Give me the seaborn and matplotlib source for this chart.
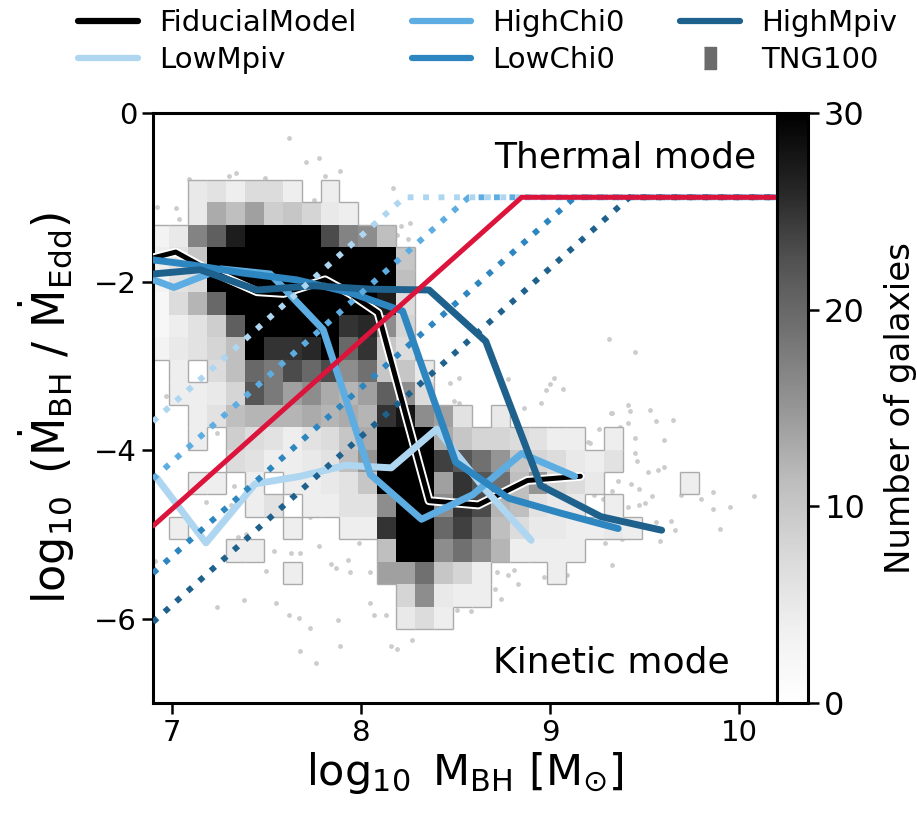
import numpy as np
import pandas as pd
import matplotlib
matplotlib.use("Agg")
import matplotlib.pyplot as plt
import matplotlib.patheffects as pe
from matplotlib.collections import LineCollection
from matplotlib.lines import Line2D
import seaborn as sns

sns.set_theme(style="ticks")
plt.rcParams["font.family"] = ["DejaVu Sans"]
plt.rcParams["mathtext.default"] = "regular"
for key in ["text.color", "axes.labelcolor", "xtick.color", "ytick.color", "axes.edgecolor"]:
    plt.rcParams[key] = "black"

# ---------------- data ----------------
# 2D histogram of TNG100 galaxies (counts), rows from top (high y) to bottom
X_EDGE_START, X_BIN = 6.886, 0.1
Y_EDGE_START, Y_BIN = -6.125, 0.2665
N_XBINS, N_YBINS = 29, 20

COUNTS = [
    [0, 0, 5, 6, 4, 7, 7, 4, 0, 4, 0, 0, 0, 0, 0, 0, 0, 0, 0, 0, 0, 0, 0, 0, 0, 0, 0, 0, 0],
    [0, 0, 5, 13, 11, 14, 9, 10, 8, 5, 4, 0, 0, 0, 0, 0, 0, 0, 0, 0, 0, 0, 0, 0, 0, 0, 0, 0, 0],
    [3, 5, 17, 21, 27, 35, 35, 35, 35, 23, 17, 16, 11, 0, 0, 0, 0, 0, 0, 0, 0, 0, 0, 0, 0, 0, 0, 0, 0],
    [4, 6, 10, 35, 35, 35, 35, 35, 35, 35, 35, 35, 35, 10, 0, 0, 0, 0, 0, 0, 0, 0, 0, 0, 0, 0, 0, 0, 0],
    [3, 6, 7, 35, 35, 35, 35, 35, 35, 35, 35, 35, 35, 11, 0, 0, 0, 0, 0, 0, 0, 0, 0, 0, 0, 0, 0, 0, 0],
    [2, 7, 12, 20, 35, 35, 35, 35, 35, 35, 35, 35, 27, 7, 0, 0, 0, 0, 0, 0, 0, 0, 0, 0, 0, 0, 0, 0, 0],
    [2, 4, 6, 9, 21, 35, 35, 35, 35, 35, 25, 26, 16, 8, 0, 0, 0, 0, 0, 0, 0, 0, 0, 0, 0, 0, 0, 0, 0],
    [3, 5, 6, 8, 11, 35, 25, 25, 26, 35, 20, 25, 10, 7, 0, 0, 0, 0, 0, 0, 0, 0, 0, 0, 0, 0, 0, 0, 0],
    [0, 4, 0, 7, 11, 20, 18, 23, 20, 23, 16, 19, 10, 10, 5, 0, 0, 0, 0, 0, 0, 0, 0, 0, 0, 0, 0, 0, 0],
    [0, 4, 4, 5, 8, 22, 18, 14, 16, 13, 12, 14, 21, 16, 7, 0, 0, 0, 0, 0, 0, 0, 0, 0, 0, 0, 0, 0, 0],
    [0, 0, 4, 6, 11, 12, 12, 12, 13, 12, 13, 12, 25, 28, 16, 14, 6, 0, 5, 0, 0, 0, 0, 0, 0, 0, 0, 0, 0],
    [0, 0, 4, 0, 9, 7, 6, 4, 6, 7, 10, 13, 35, 35, 35, 13, 10, 8, 8, 7, 6, 4, 4, 0, 4, 0, 0, 0, 0],
    [0, 0, 0, 0, 7, 6, 4, 4, 5, 6, 11, 15, 35, 35, 35, 24, 22, 19, 15, 10, 8, 7, 5, 4, 6, 0, 0, 0, 0],
    [0, 0, 4, 4, 0, 4, 0, 4, 4, 5, 6, 10, 35, 35, 35, 14, 25, 22, 19, 11, 15, 8, 7, 5, 0, 0, 0, 0, 4],
    [0, 0, 0, 0, 0, 4, 6, 0, 4, 4, 6, 6, 16, 35, 35, 16, 25, 23, 12, 11, 6, 5, 5, 0, 4, 0, 0, 0, 0],
    [0, 4, 0, 0, 0, 0, 0, 4, 0, 0, 4, 4, 25, 35, 35, 20, 24, 19, 11, 7, 5, 5, 4, 4, 5, 4, 0, 0, 0],
    [0, 0, 0, 0, 4, 4, 0, 0, 0, 0, 0, 0, 11, 35, 35, 16, 19, 16, 12, 4, 4, 4, 4, 0, 0, 0, 0, 0, 0],
    [0, 0, 0, 0, 0, 0, 0, 4, 0, 0, 0, 0, 14, 14, 19, 10, 8, 4, 0, 0, 0, 4, 0, 0, 0, 0, 0, 0, 0],
    [0, 0, 0, 0, 0, 0, 0, 0, 0, 0, 0, 0, 0, 8, 16, 5, 4, 4, 0, 0, 0, 0, 0, 0, 0, 0, 0, 0, 0],
    [0, 0, 0, 0, 0, 0, 0, 0, 0, 0, 0, 0, 0, 5, 7, 4, 0, 0, 0, 0, 0, 0, 0, 0, 0, 0, 0, 0, 0],
]

# individual galaxies in sparse regions
DOTS_X = [7.62, 7.71, 7.78, 7.30, 7.34, 7.49, 7.09, 7.81, 7.89, 7.75, 8.17, 7.02, 7.04, 6.92, 8.21,
          8.26, 8.19, 8.25, 6.97, 6.92, 6.92, 8.47, 8.52, 6.97, 9.31, 9.45, 9.02, 9.00, 8.98, 9.07,
          8.78, 7.24, 7.18, 7.33, 7.31, 7.44, 7.39, 7.35, 7.54, 7.50, 7.63, 7.68, 7.63, 7.73, 7.78,
          7.84, 7.87, 7.93, 7.94, 7.99, 8.05, 7.55, 7.38, 7.24, 7.62, 7.67, 7.73, 7.88, 8.07, 8.05,
          8.13, 7.68, 7.76, 7.89, 8.16, 8.19, 8.27, 6.91, 8.51, 8.58, 8.72, 8.78, 8.81, 8.83, 8.74,
          8.71, 8.49, 8.52, 8.86, 8.95, 9.21, 9.26, 9.33, 9.41, 9.42, 9.32, 9.53, 9.56, 9.65, 9.41,
          9.37, 9.20, 9.45, 9.60, 9.45, 9.46, 9.52, 9.57, 9.60, 9.36, 9.43, 9.47, 9.33, 9.54, 9.69,
          9.80, 9.86, 9.86, 9.95, 10.08, 9.50, 9.47, 9.41, 9.28, 9.23, 9.64, 9.66, 9.56, 9.58, 9.90,
          9.29, 9.38, 9.23, 9.17, 9.09, 8.97, 9.33]
DOTS_Y = [-0.30, -0.58, -0.53, -0.75, -0.71, -0.77, -0.78, -0.75, -0.69, -1.03, -0.89, -1.13, -1.26, -1.11, -1.34,
          -1.31, -1.45, -1.50, -2.26, -2.57, -2.85, -3.20, -3.15, -3.36, -2.68, -2.84, -3.15, -3.21, -3.29, -3.27,
          -3.16, -3.80, -4.61, -4.43, -4.65, -4.57, -5.00, -5.03, -5.20, -5.43, -5.22, -5.22, -4.53, -4.79, -5.14,
          -5.35, -5.40, -5.30, -5.45, -5.10, -5.45, -5.81, -5.78, -5.86, -5.96, -5.99, -6.11, -6.02, -5.96, -5.81,
          -5.96, -6.38, -6.53, -6.32, -6.32, -6.36, -6.25, -5.32, -5.90, -5.91, -5.45, -5.48, -5.42, -5.59, -5.77,
          -5.65, -3.42, -3.44, -3.50, -3.44, -3.91, -3.75, -3.56, -3.46, -3.53, -3.56, -3.52, -3.66, -3.64, -3.68,
          -3.72, -3.90, -3.86, -3.88, -4.03, -4.13, -4.26, -4.23, -4.20, -4.37, -4.40, -4.46, -4.48, -4.54, -4.53,
          -4.58, -4.50, -4.70, -4.68, -4.54, -4.63, -4.65, -4.67, -4.58, -4.53, -4.84, -4.95, -4.85, -5.08, -4.94,
          -5.10, -5.06, -4.93, -5.22, -5.48, -5.50, -5.36]

# median accretion-rate curves for each model
FID_X = [6.90, 7.02, 7.19, 7.45, 7.59, 7.81, 7.94, 8.09, 8.36, 8.62, 8.88, 9.16]
FID_Y = [-1.72, -1.65, -1.86, -2.12, -2.14, -1.98, -2.14, -2.37, -4.60, -4.65, -4.36, -4.31]
LOWMPIV_X = [6.92, 7.18, 7.44, 7.68, 7.92, 8.16, 8.40, 8.65, 8.90]
LOWMPIV_Y = [-4.33, -5.10, -4.40, -4.31, -4.18, -4.21, -3.75, -4.45, -5.07]
HIGHCHI0_X = [6.75, 7.01, 7.26, 7.52, 7.80, 8.05, 8.32, 8.59, 8.85, 9.13]
HIGHCHI0_Y = [-1.85, -2.07, -1.85, -1.91, -2.57, -4.29, -4.82, -4.53, -4.04, -4.31]
LOWCHI0_X = [6.82, 7.10, 7.38, 7.66, 7.94, 8.22, 8.50, 8.78, 9.06, 9.36]
LOWCHI0_Y = [-1.72, -1.80, -1.90, -1.98, -2.13, -2.35, -4.14, -4.57, -4.75, -4.93]
HIGHMPIV_X = [6.85, 7.15, 7.45, 7.75, 8.05, 8.36, 8.66, 8.95, 9.27, 9.59]
HIGHMPIV_Y = [-1.92, -1.86, -2.10, -2.05, -2.09, -2.10, -2.71, -4.42, -4.79, -4.95]

# thermal/kinetic switching thresholds (breakpoints)
FID_THR_X = [6.90, 8.85, 10.20]
FID_THR_Y = [-4.90, -1.00, -1.00]
LOWMPIV_THR_X = [6.90, 8.23, 10.20]
LOWMPIV_THR_Y = [-3.66, -1.00, -1.00]
HIGHCHI0_THR_X = [6.90, 8.57, 10.20]
HIGHCHI0_THR_Y = [-4.34, -1.00, -1.00]
LOWCHI0_THR_X = [6.90, 9.13, 10.20]
LOWCHI0_THR_Y = [-5.46, -1.00, -1.00]
HIGHMPIV_THR_X = [6.90, 9.42, 10.20]
HIGHMPIV_THR_Y = [-6.04, -1.00, -1.00]

MODELS = ["FiducialModel", "LowMpiv", "HighChi0", "LowChi0", "HighMpiv"]
X_TICKS = [7, 8, 9, 10]
Y_TICKS = [0, -2, -4, -6]
CB_TICKS = [0, 10, 20, 30]

# ---------------- styles ----------------
COLORS = {"FiducialModel": "black", "LowMpiv": "#aed6f1", "HighChi0": "#5dade2",
          "LowChi0": "#2e86c1", "HighMpiv": "#1f618d"}
MED = {"FiducialModel": (FID_X, FID_Y), "LowMpiv": (LOWMPIV_X, LOWMPIV_Y),
       "HighChi0": (HIGHCHI0_X, HIGHCHI0_Y), "LowChi0": (LOWCHI0_X, LOWCHI0_Y),
       "HighMpiv": (HIGHMPIV_X, HIGHMPIV_Y)}
THR = {"LowMpiv": (LOWMPIV_THR_X, LOWMPIV_THR_Y), "HighChi0": (HIGHCHI0_THR_X, HIGHCHI0_THR_Y),
       "LowChi0": (LOWCHI0_THR_X, LOWCHI0_THR_Y), "HighMpiv": (HIGHMPIV_THR_X, HIGHMPIV_THR_Y)}

W, H = 917, 815
fig = plt.figure(figsize=(W / 100, H / 100), dpi=100)
ax_l, ax_r, ax_t, ax_b = 153, 777, 113, 703
ax = fig.add_axes([ax_l / W, 1 - ax_b / H, (ax_r - ax_l) / W, (ax_b - ax_t) / H])
cax = fig.add_axes([ax_r / W, 1 - ax_b / H, 31 / W, (ax_b - ax_t) / H])

# cell table
x_edges = X_EDGE_START + X_BIN * np.arange(N_XBINS + 1)
y_edges = Y_EDGE_START + Y_BIN * np.arange(N_YBINS + 1)
xc = 0.5 * (x_edges[:-1] + x_edges[1:])
yc = 0.5 * (y_edges[:-1] + y_edges[1:])
grid = np.array(COUNTS)[::-1]
recs = []
for j in range(N_YBINS):
    for k in range(N_XBINS):
        if grid[j, k] > 0:
            recs.append((xc[k], yc[j], float(grid[j, k])))
cells = pd.DataFrame(recs, columns=["x", "y", "n"])

# scattered galaxies
sns.scatterplot(x=DOTS_X, y=DOTS_Y, color="#cccccc", s=12, linewidth=0, ax=ax, zorder=1)

# histogram
sns.histplot(data=cells, x="x", y="y", weights="n", bins=[x_edges, y_edges],
             cmap="Greys", vmin=0, vmax=30, cbar=True, cbar_ax=cax, ax=ax, zorder=2)

# outline of the populated region
occ = np.pad(grid > 0, 1)
segs = []
for j in range(N_YBINS):
    for k in range(N_XBINS):
        if not occ[j + 1, k + 1]:
            continue
        x0, x1, y0, y1 = x_edges[k], x_edges[k + 1], y_edges[j], y_edges[j + 1]
        if not occ[j + 1, k]:
            segs.append([(x0, y0), (x0, y1)])
        if not occ[j + 1, k + 2]:
            segs.append([(x1, y0), (x1, y1)])
        if not occ[j, k + 1]:
            segs.append([(x0, y0), (x1, y0)])
        if not occ[j + 2, k + 1]:
            segs.append([(x0, y1), (x1, y1)])
ax.add_collection(LineCollection(segs, colors="#ababab", linewidths=1.0, zorder=2.5))

# median curves
for i, m in enumerate(MODELS):
    mx, my = MED[m]
    lw = 3.6 if m == "FiducialModel" else 5
    sns.lineplot(x=mx, y=my, color=COLORS[m], lw=lw, sort=False, estimator=None,
                 ax=ax, zorder=4 + 0.1 * i, legend=False)
    if m == "FiducialModel":
        ax.lines[-1].set_path_effects([pe.Stroke(linewidth=6.4, foreground="white"), pe.Normal()])

# threshold lines
for m in ["LowMpiv", "HighChi0", "LowChi0", "HighMpiv"]:
    tx, ty = THR[m]
    sns.lineplot(x=tx, y=ty, color=COLORS[m], lw=4.2, linestyle=":", sort=False,
                 estimator=None, ax=ax, zorder=5, legend=False)
sns.lineplot(x=FID_THR_X, y=FID_THR_Y, color="crimson", lw=3.6, sort=False,
             estimator=None, ax=ax, zorder=6, legend=False)

ax.text(10.09, -0.53, "Thermal mode", ha="right", va="center", fontsize=26, zorder=7)
ax.text(9.95, -6.52, "Kinetic mode", ha="right", va="center", fontsize=26, zorder=7)

ax.set_xlim(6.9, 10.2)
ax.set_ylim(-7, 0)
ax.set_xticks(X_TICKS)
ax.set_yticks(Y_TICKS)
ax.tick_params(labelsize=21, length=8, width=1.8, direction="out")
for s in ax.spines.values():
    s.set_linewidth(2.2)
    s.set_visible(True)
ax.set_xlabel(r"$\log_{10}\ M_{BH}\ [M_{\odot}]$", fontsize=31, labelpad=2)
ax.set_ylabel(r"$\log_{10}\ (\dot{M}_{BH}\ /\ \dot{M}_{Edd})$", fontsize=32, labelpad=12)

cb = ax.collections[1].colorbar
cb.set_ticks(CB_TICKS)
cb.outline.set_linewidth(2.2)
cax.tick_params(labelsize=23, length=8, width=1.8)
cax.set_ylabel("Number of galaxies", fontsize=24.5, labelpad=14)

# legend
rect = [(-0.55, -1), (0.55, -1), (0.55, 1), (-0.55, 1)]
handles = [Line2D([], [], color=COLORS[m], lw=4.5) for m in MODELS]
handles.append(Line2D([], [], ls="none", marker=rect, ms=16, color="#6b6b6b"))
labels = MODELS + ["TNG100"]
fig.legend(handles, labels, ncol=3, loc="upper left", bbox_to_anchor=(78 / W, 0.989),
           frameon=False, fontsize=21, handlelength=2.05, handletextpad=0.72,
           columnspacing=1.9, labelspacing=0.32, borderpad=0, borderaxespad=0)

fig.savefig("out.png", dpi=100)
